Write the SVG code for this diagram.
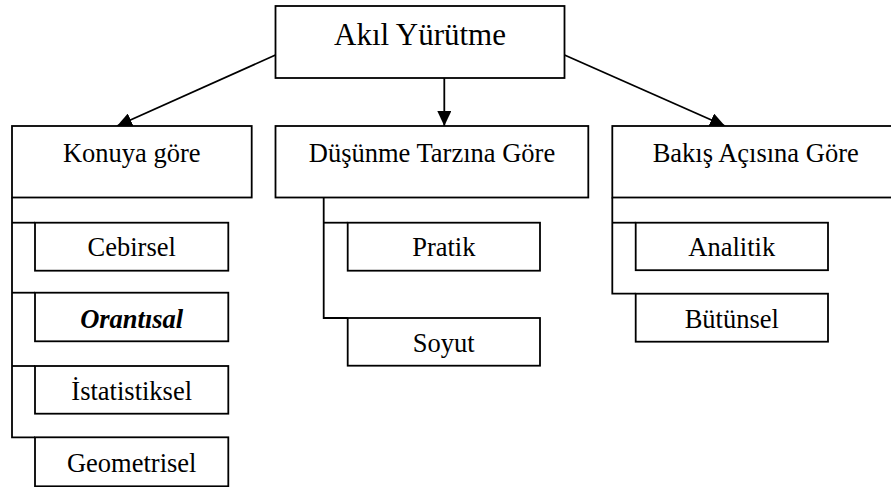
<svg xmlns="http://www.w3.org/2000/svg" width="891" height="487" viewBox="0 0 891 487">
<defs>
<style>
.box{fill:#fff;stroke:#000;stroke-width:1.8}
.ln{fill:none;stroke:#000;stroke-width:1.8}
.tx{font-family:"Liberation Serif","Times New Roman",serif;fill:#000;text-anchor:middle}
.t1{font-size:31px}
.t2{font-size:26.5px}
.bi{font-weight:bold;font-style:italic}
</style>
<marker id="arr" markerUnits="userSpaceOnUse" markerWidth="16" markerHeight="14" refX="15" refY="7" orient="auto" viewBox="0 0 16 14">
<path d="M0,0 L15,7 L0,14 Z" fill="#000"/>
</marker>
</defs>
<rect width="891" height="487" fill="#fff"/>
<g id="connectors">
<line class="ln" x1="275.5" y1="55" x2="117" y2="126" marker-end="url(#arr)"/>
<line class="ln" x1="444.3" y1="78" x2="444.3" y2="126" marker-end="url(#arr)"/>
<line class="ln" x1="564.5" y1="55" x2="725" y2="126" marker-end="url(#arr)"/>
<polyline class="ln" points="12,197.5 12,437.3 35,437.3"/>
<line class="ln" x1="12" y1="222.7" x2="35" y2="222.7"/>
<line class="ln" x1="12" y1="292.7" x2="35" y2="292.7"/>
<line class="ln" x1="12" y1="366" x2="35" y2="366"/>
<polyline class="ln" points="323.7,197.5 323.7,318 347.7,318"/>
<line class="ln" x1="323.7" y1="222.7" x2="347.7" y2="222.7"/>
<polyline class="ln" points="612.3,197.5 612.3,293.7 635.7,293.7"/>
<line class="ln" x1="612.3" y1="222.7" x2="635.7" y2="222.7"/>
</g>
<g id="akil-yurutme">
<rect class="box" x="275.5" y="6" width="289" height="72"/>
<text class="tx t1" x="420" y="45">Akıl Yürütme</text>
</g>
<g id="konuya-gore">
<rect class="box" x="12" y="126" width="239.7" height="71.5"/>
<text class="tx t2" x="131.8" y="162">Konuya göre</text>
</g>
<g id="dusunme-tarzina-gore">
<rect class="box" x="275.5" y="126" width="312.8" height="71.5"/>
<text class="tx t2" x="432" y="162">Düşünme Tarzına Göre</text>
</g>
<g id="bakis-acisina-gore">
<rect class="box" x="612.3" y="126" width="287" height="71.5"/>
<text class="tx t2" x="755.7" y="162">Bakış Açısına Göre</text>
</g>
<g id="cebirsel">
<rect class="box" x="35" y="222.7" width="193.3" height="48"/>
<text class="tx t2" x="131.7" y="256">Cebirsel</text>
</g>
<g id="orantisal">
<rect class="box" x="35" y="292.7" width="193.3" height="48.6"/>
<text class="tx t2 bi" x="131.7" y="327.5">Orantısal</text>
</g>
<g id="istatistiksel">
<rect class="box" x="35" y="366" width="193.3" height="47.7"/>
<text class="tx t2" x="131.7" y="400">İstatistiksel</text>
</g>
<g id="geometrisel">
<rect class="box" x="35" y="437.3" width="193.3" height="49"/>
<text class="tx t2" x="131.7" y="472">Geometrisel</text>
</g>
<g id="pratik">
<rect class="box" x="347.7" y="222.7" width="192.3" height="48"/>
<text class="tx t2" x="443.8" y="256">Pratik</text>
</g>
<g id="soyut">
<rect class="box" x="347.7" y="318" width="192.3" height="47.7"/>
<text class="tx t2" x="443.8" y="352">Soyut</text>
</g>
<g id="analitik">
<rect class="box" x="635.7" y="222.7" width="192.3" height="47.5"/>
<text class="tx t2" x="731.8" y="256">Analitik</text>
</g>
<g id="butunsel">
<rect class="box" x="635.7" y="293.7" width="192.3" height="48"/>
<text class="tx t2" x="731.8" y="327.5">Bütünsel</text>
</g>
</svg>
